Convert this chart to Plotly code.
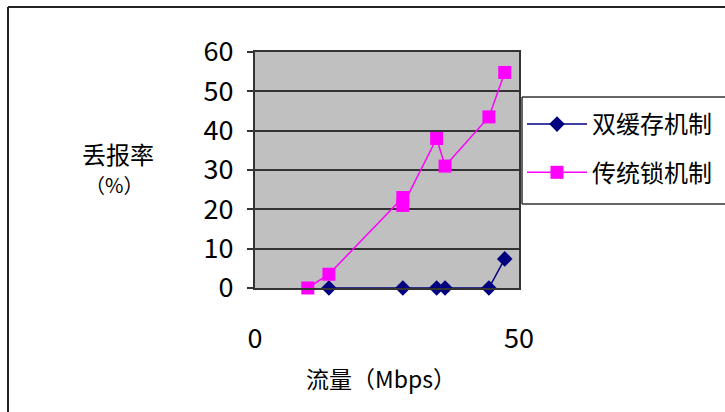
import plotly.graph_objects as go

# 流量 (Mbps) and 丢报率 (%) for the two mechanisms
flow_dual = [14, 28, 34.4, 36, 44.3, 47.3]
loss_dual = [0, 0, 0, 0, 0, 7.4]

flow_lock = [10, 14, 28, 28, 34.4, 36, 44.3, 47.3]
loss_lock = [0, 3.5, 23, 21, 38, 31, 43.5, 54.8]

names = ["双缓存机制", "传统锁机制"]
y_ticks = [0, 10, 20, 30, 40, 50, 60]
x_ticks = [0, 50]

FONT = "Noto Sans CJK SC"
W, H = 725, 412
L, R, T, B = 255, 206, 52, 124
PW, PH = W - L - R, H - T - B


def px(x):
    return (x - L) / PW


def py(y):
    return (H - B - y) / PH


def seg(x0, y0, x1, y1, color="#222222", width=2):
    return dict(type="line", xref="paper", yref="paper",
                x0=px(x0), y0=py(y0), x1=px(x1), y1=py(y1),
                line=dict(color=color, width=width))


fig = go.Figure()
fig.add_trace(go.Scatter(
    x=flow_dual, y=loss_dual, name=names[0], mode="lines+markers",
    line=dict(color="#000080", width=1.5),
    marker=dict(symbol="diamond", size=12, color="#000080"),
    legendgroup="a", cliponaxis=False,
))
fig.add_trace(go.Scatter(
    x=flow_lock, y=loss_lock, name=names[1], mode="lines+markers",
    line=dict(color="#FF00FF", width=1.5),
    marker=dict(symbol="square", size=13, color="#FF00FF"),
    legendgroup="b", cliponaxis=False,
))

fig.update_layout(
    width=W, height=H,
    margin=dict(l=L, r=R, t=T, b=B, autoexpand=False),
    paper_bgcolor="white",
    plot_bgcolor="#C0C0C0",
    font=dict(family=FONT, color="black"),
    xaxis=dict(
        range=[0, 50], tickvals=x_ticks, showgrid=False, zeroline=False,
        showline=True, linecolor="#333333", linewidth=2, mirror=True,
        ticks="", tickfont=dict(size=27), ticklabelstandoff=26,
    ),
    yaxis=dict(
        range=[0, 60], tickvals=y_ticks, showgrid=True, gridcolor="#333333",
        gridwidth=1.5, zeroline=False,
        showline=True, linecolor="#333333", linewidth=2, mirror=True,
        ticks="outside", ticklen=6, tickcolor="#333333", tickwidth=1.5,
        tickfont=dict(size=27), ticklabelstandoff=8,
    ),
    legend=dict(
        x=px(522), y=py(102), xanchor="left", yanchor="top",
        bgcolor="rgba(0,0,0,0)", borderwidth=0,
        font=dict(size=24, family=FONT), tracegroupgap=14,
        itemwidth=60,
    ),
    showlegend=True,
    annotations=[
        dict(text="丢报率", x=px(118), y=py(153), xref="paper", yref="paper",
             showarrow=False, font=dict(size=24, family=FONT),
             xanchor="center", yanchor="middle"),
        dict(text="（%）", x=px(114), y=py(184), xref="paper", yref="paper",
             showarrow=False, font=dict(size=20, family=FONT),
             xanchor="center", yanchor="middle"),
        dict(text="流量（Mbps）", x=px(381), y=py(378), xref="paper", yref="paper",
             showarrow=False, font=dict(size=23, family=FONT),
             xanchor="center", yanchor="middle"),
    ],
    shapes=[
        # chart frame: top and left edges
        seg(8, 7, 725, 7),
        seg(8, 7, 8, 412),
        # legend box, open on the right at the page edge
        seg(522, 97, 725, 97, color="#333333", width=1.5),
        seg(522, 97, 522, 204, color="#333333", width=1.5),
        seg(522, 204, 725, 204, color="#333333", width=1.5),
    ],
)

fig.write_html("out.html")
